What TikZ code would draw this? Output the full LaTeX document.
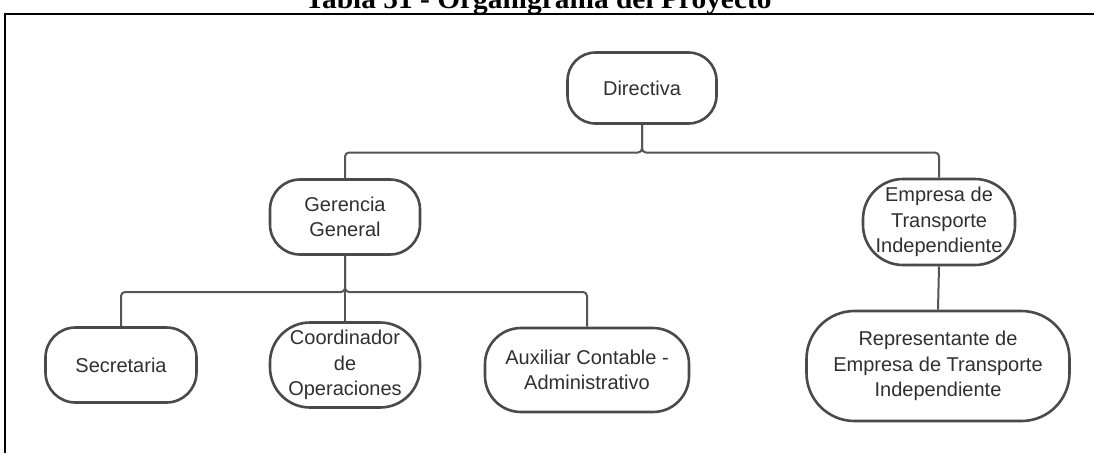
\documentclass[tikz,border=0pt]{standalone}
\usepackage{fontspec}
\setmainfont{Liberation Sans}
\newfontfamily\titlefont{Liberation Serif}
\definecolor{boxgray}{HTML}{4A4A4A}
\definecolor{linegray}{HTML}{555555}
\definecolor{textgray}{HTML}{303030}
\tikzset{
  orgbox/.style={draw=boxgray, line width=2.6pt, fill=white, align=center,
    text=textgray, inner sep=0pt, font=\fontsize{20}{25.5}\selectfont},
  conn/.style={draw=linegray, line width=2pt},
  frameline/.style={draw=black, line width=2pt}
}
\begin{document}
\begin{tikzpicture}[x=1pt,y=-1pt]
\useasboundingbox (0,0) rectangle (1094,453);
\begin{scope}
\clip (0,0) rectangle (1094,453);
\node[anchor=base west, inner sep=0pt, font=\titlefont\bfseries\fontsize{28}{32}\selectfont] (title) at (305,8.5) {\scalebox{1.05}[1]{Tabla 51 - Organigrama del Proyecto}};
\end{scope}
\draw[frameline] (5,453) -- (5,13.5) -- (1094,13.5);

\node[orgbox, minimum width=149pt, minimum height=71pt, rounded corners=28pt] (dir) at (642,88) {Directiva};
\node[orgbox, minimum width=150pt, minimum height=75pt, rounded corners=30pt] (ger) at (345,217) {Gerencia\\General};
\node[orgbox, minimum width=152pt, minimum height=86pt, rounded corners=40pt] (emp) at (939,222) {Empresa de\\Transporte\\Independiente};
\node[orgbox, minimum width=151pt, minimum height=75pt, rounded corners=30pt] (sec) at (121,365) {Secretaria};
\node[orgbox, minimum width=150pt, minimum height=85pt, rounded corners=40pt] (coo) at (345,365) {Coordinador\\de\\Operaciones};
\node[orgbox, minimum width=204pt, minimum height=84pt, rounded corners=36pt] (aux) at (587,370) {Auxiliar Contable -\\Administrativo};
\node[orgbox, minimum width=263pt, minimum height=110pt, rounded corners=48pt] (rep) at (938,366) {Representante de\\Empresa de Transporte\\Independiente};

\coordinate (j1) at (642,152.5);
\coordinate (j2) at (345,292);
\draw[conn, rounded corners=4pt] (dir.south) -- (j1) -| (ger.north);
\draw[conn, rounded corners=4pt] (dir.south) -- (j1) -| (emp.north);
\draw[conn] (ger.south) -- (coo.north);
\draw[conn, rounded corners=4pt] (ger.south) -- (j2) -| (sec.north);
\draw[conn, rounded corners=4pt] (ger.south) -- (j2) -| (aux.north);
\draw[conn] (emp.south) -- (rep.north);
\end{tikzpicture}
\end{document}
